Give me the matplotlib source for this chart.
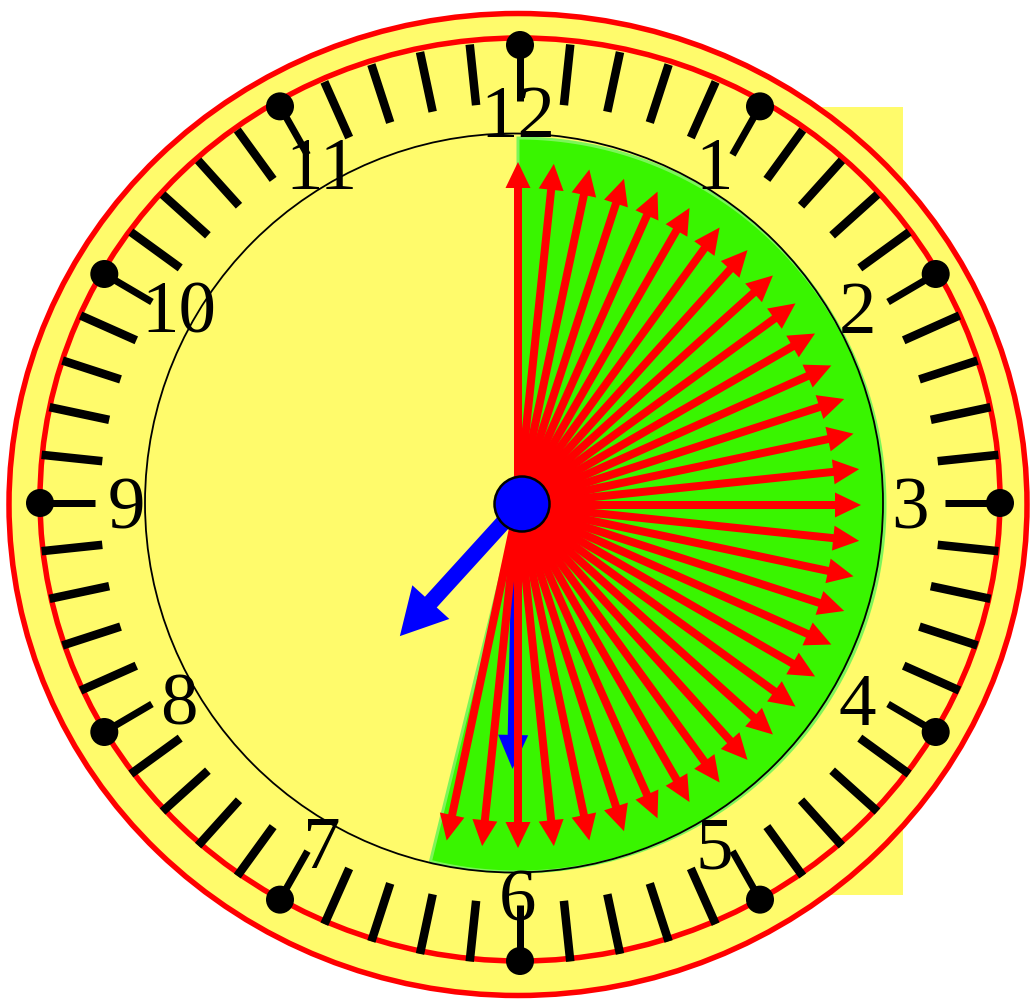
import numpy as np
import matplotlib
matplotlib.use("Agg")
import matplotlib.pyplot as plt
from matplotlib.patches import Ellipse, Circle, Polygon, Rectangle, FancyArrow

# ---- data ----
hour_labels = ["12", "1", "2", "3", "4", "5", "6", "7", "8", "9", "10", "11"]
minute_ticks = list(range(60))
arrow_minutes = list(range(33))          # red arrows, one per minute 0..32
sector_end_minute = 32.3                 # green swept sector end
hour_hand_hours = 7.41                   # blue hour hand position (hours)
minute_hand_minutes = 30.2               # blue minute hand position (minutes)

# ---- colours ----
YELLOW = "#FFFB6B"
RED = "#FF0000"
GREEN = "#39F500"
BLUE = "#0000FF"

W, H = 1033, 1007
fig = plt.figure(figsize=(W / 100, H / 100), dpi=100)
ax = fig.add_axes([0, 0, 1, 1])
ax.set_xlim(0, W)
ax.set_ylim(H, 0)
ax.axis("off")

PX = 72 / 100  # points per pixel

cx, cy = 520, 503          # clock face centre
acx, acy = 518, 505        # centre of hands/arrows


def clock_pt(c, r_x, r_y, deg):
    t = np.deg2rad(deg)
    return c[0] + r_x * np.sin(t), c[1] - r_y * np.cos(t)


# background yellow rectangle at right
ax.add_patch(Rectangle((520, 107), 903 - 520, 895 - 107, facecolor=YELLOW,
                       edgecolor="none", zorder=0))

# outer face
ax.add_patch(Ellipse((518, 504.5), 2 * 509, 2 * 491, facecolor=YELLOW,
                     edgecolor=RED, lw=5.5 * PX, zorder=1))
ax.add_patch(Ellipse((520, 499.5), 2 * 480, 2 * 461.5, facecolor="none",
                     edgecolor=RED, lw=5.5 * PX, zorder=2))

# green swept sector
angs = np.linspace(0, sector_end_minute * 6, 200)
pts = [(acx, acy)] + [clock_pt((acx, acy), 367, 367, a) for a in angs]
ax.add_patch(Polygon(pts, closed=True, facecolor=GREEN, edgecolor="#7CF55A",
                     lw=3 * PX, zorder=3))

# inner black circle
ax.add_patch(Ellipse((514, 503), 2 * 369, 2 * 369.5, facecolor="none",
                     edgecolor="black", lw=1.8 * PX, zorder=4))

# minute ticks, hour ticks with dots
for m in minute_ticks:
    deg = m * 6
    if m % 5 == 0:
        x0, y0 = clock_pt((cx, cy), 425, 402, deg)
        x1, y1 = clock_pt((cx, cy), 480, 458, deg)
        ax.plot([x0, x1], [y0, y1], color="black", lw=7 * PX,
                solid_capstyle="butt", zorder=5)
        ax.add_patch(Circle((x1, y1), 14, facecolor="black",
                            edgecolor="none", zorder=6))
    else:
        x0, y0 = clock_pt((cx, cy), 420, 400, deg)
        x1, y1 = clock_pt((cx, cy), 481, 461, deg)
        ax.plot([x0, x1], [y0, y1], color="black", lw=8.5 * PX,
                solid_capstyle="butt", zorder=5)

# hour numbers
for i, lab in enumerate(hour_labels):
    x, y = clock_pt((518, 503), 392, 392, i * 30)
    ax.text(x, y, lab, ha="center", va="center_baseline", fontsize=54,
            family=["Liberation Serif", "DejaVu Serif"], color="black",
            zorder=7)

# blue minute hand (behind red arrows)
mdeg = minute_hand_minutes * 6
L = 264
dx, dy = L * np.sin(np.deg2rad(mdeg)), -L * np.cos(np.deg2rad(mdeg))
ax.add_patch(FancyArrow(acx, acy, dx, dy, width=11, head_width=30,
                        head_length=34, length_includes_head=True,
                        facecolor=BLUE, edgecolor="none", zorder=8))

# red arrows
for m in arrow_minutes:
    deg = m * 6
    L = 343
    dx, dy = L * np.sin(np.deg2rad(deg)), -L * np.cos(np.deg2rad(deg))
    ax.add_patch(FancyArrow(acx, acy, dx, dy, width=8, head_width=25,
                            head_length=26, length_includes_head=True,
                            facecolor=RED, edgecolor="none", zorder=9))

# blue hour hand
hdeg = hour_hand_hours * 30
L = 180
dx, dy = L * np.sin(np.deg2rad(hdeg)), -L * np.cos(np.deg2rad(hdeg))
ax.add_patch(FancyArrow(acx + 3, acy - 2, dx, dy, width=16, head_width=50,
                        head_length=46, length_includes_head=True,
                        facecolor=BLUE, edgecolor="none", zorder=10))

# centre hub
ax.add_patch(Circle((522, 504), 27.5, facecolor=BLUE, edgecolor="black",
                    lw=2.5 * PX, zorder=11))

fig.savefig("out.png", dpi=100)
